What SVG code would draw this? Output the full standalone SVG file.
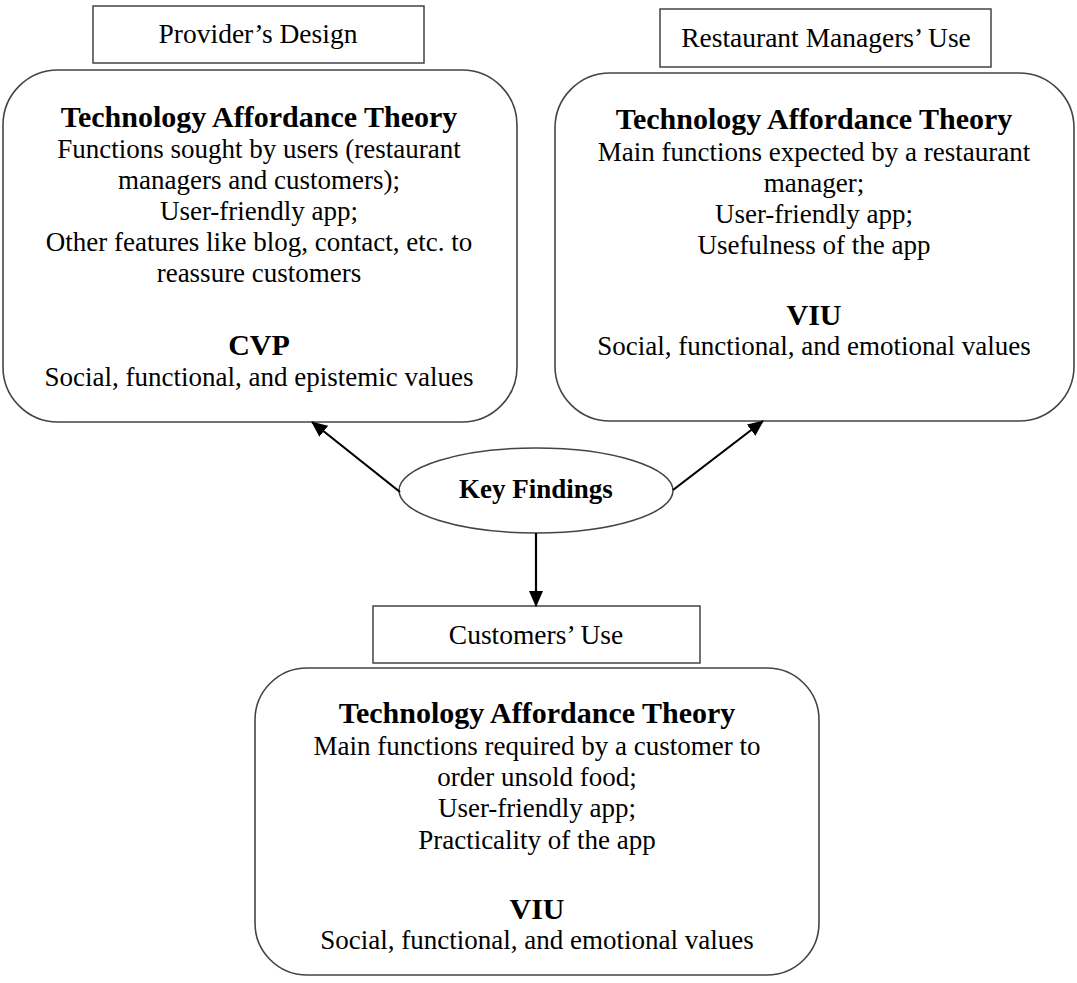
<svg xmlns="http://www.w3.org/2000/svg" width="1077" height="983" viewBox="0 0 1077 983">
<defs>
<style>
.box{fill:#fff;stroke:#444;stroke-width:1.6}
.lbl{fill:#fff;stroke:#444;stroke-width:1.5}
.t{font-family:"Liberation Serif","Times New Roman",serif;font-size:27px;fill:#000;text-anchor:middle}
.l{font-family:"Liberation Serif","Times New Roman",serif;font-size:27.5px;fill:#000;text-anchor:middle}
.b{font-family:"Liberation Serif","Times New Roman",serif;font-size:30px;font-weight:bold;fill:#000;text-anchor:middle}
.conn{stroke:#000;stroke-width:2.2;fill:none;marker-end:url(#ah)}
</style>
<marker id="ah" markerUnits="userSpaceOnUse" markerWidth="16" markerHeight="14" refX="15" refY="7" orient="auto">
<path d="M0,0 L16,7 L0,14 Z" fill="#000"/>
</marker>
</defs>
<rect width="1077" height="983" fill="#fff"/>

<g id="provider-label">
<rect class="lbl" x="93" y="6" width="331" height="57"/>
<text class="l" x="258" y="43">Provider’s Design</text>
</g>

<g id="provider-box">
<rect class="box" x="3" y="70" width="514" height="352" rx="55" ry="55"/>
<text class="b" x="259" y="127">Technology Affordance Theory</text>
<text class="t" x="259" y="158">Functions sought by users (restaurant</text>
<text class="t" x="259" y="189">managers and customers);</text>
<text class="t" x="259" y="220">User-friendly app;</text>
<text class="t" x="259" y="251">Other features like blog, contact, etc. to</text>
<text class="t" x="259" y="282">reassure customers</text>
<text class="b" x="259" y="355">CVP</text>
<text class="t" x="259" y="386">Social, functional, and epistemic values</text>
</g>

<g id="managers-label">
<rect class="lbl" x="660" y="9" width="331" height="58"/>
<text class="l" x="826" y="47">Restaurant Managers’ Use</text>
</g>

<g id="managers-box">
<rect class="box" x="555" y="73" width="519" height="348" rx="55" ry="55"/>
<text class="b" x="814" y="129">Technology Affordance Theory</text>
<text class="t" x="814" y="161">Main functions expected by a restaurant</text>
<text class="t" x="814" y="192">manager;</text>
<text class="t" x="814" y="223">User-friendly app;</text>
<text class="t" x="814" y="254">Usefulness of the app</text>
<text class="b" x="814" y="325">VIU</text>
<text class="t" x="814" y="355">Social, functional, and emotional values</text>
</g>

<g id="key-findings">
<ellipse cx="536" cy="490.5" rx="137" ry="42.5" fill="#fff" stroke="#444" stroke-width="1.5"/>
<text class="b" x="536" y="498" style="font-size:27px">Key Findings</text>
</g>

<g id="customers-label">
<rect class="lbl" x="373" y="606" width="327" height="57"/>
<text class="l" x="536" y="644">Customers’ Use</text>
</g>

<g id="customers-box">
<rect class="box" x="255" y="668" width="564" height="307" rx="52" ry="52"/>
<text class="b" x="537" y="723">Technology Affordance Theory</text>
<text class="t" x="537" y="755">Main functions required by a customer to</text>
<text class="t" x="537" y="786">order unsold food;</text>
<text class="t" x="537" y="817">User-friendly app;</text>
<text class="t" x="537" y="849">Practicality of the app</text>
<text class="b" x="537" y="919">VIU</text>
<text class="t" x="537" y="949">Social, functional, and emotional values</text>
</g>

<g id="connectors">
<line class="conn" x1="400" y1="492" x2="312" y2="422"/>
<line class="conn" x1="673" y1="490" x2="763" y2="421"/>
<line class="conn" x1="536" y1="533" x2="536" y2="606"/>
</g>
</svg>
